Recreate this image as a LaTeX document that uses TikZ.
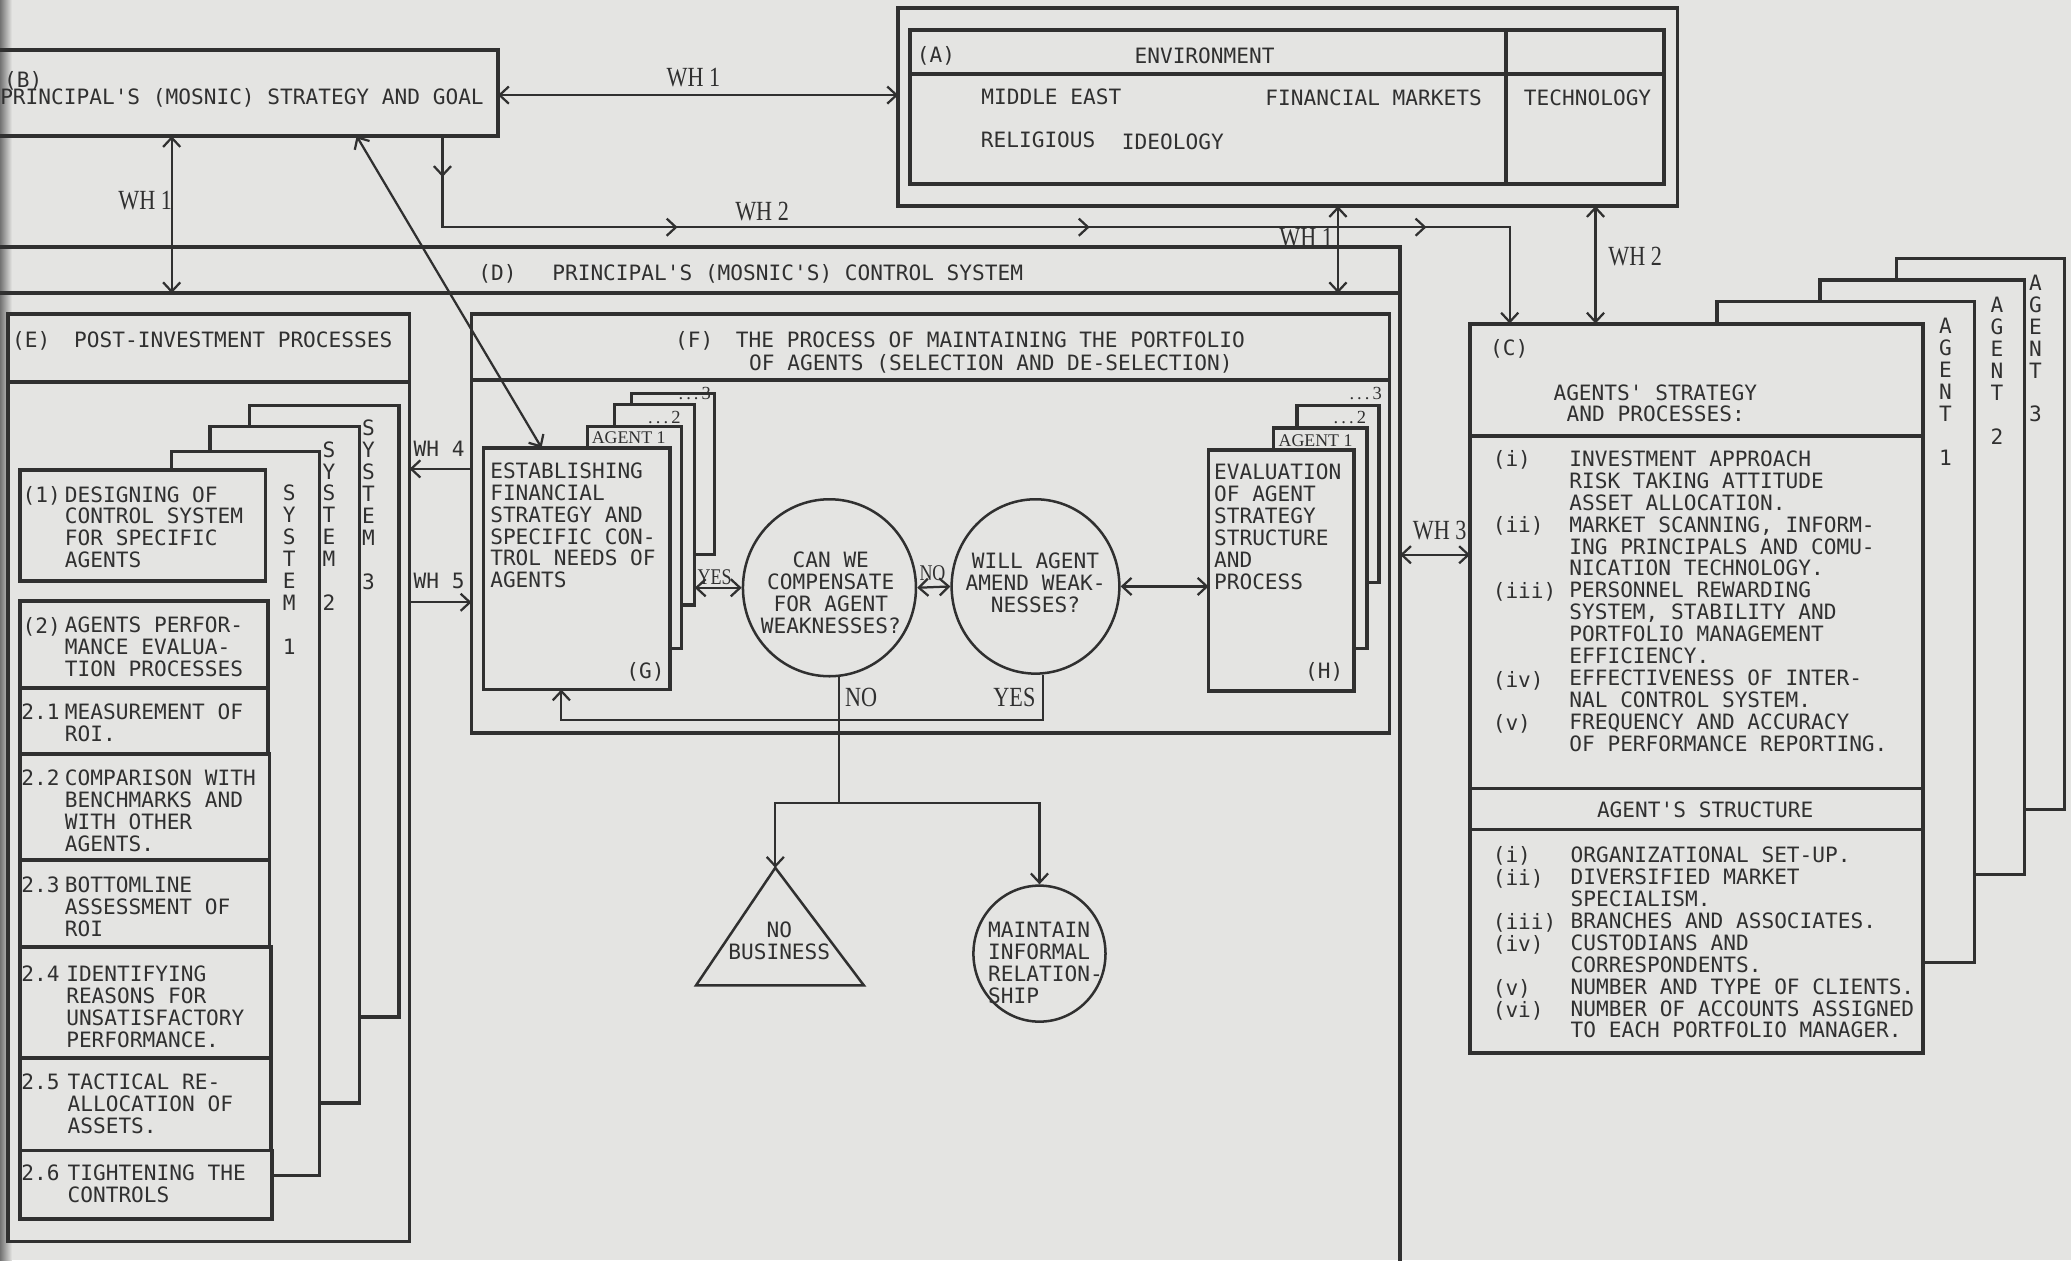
\documentclass[tikz,border=0pt]{standalone}
\usepackage{fontspec}
\usetikzlibrary{arrows.meta,shapes.geometric,decorations.markings,calc}
\newfontfamily\monof{DejaVu Sans Mono}
\newfontfamily\whf[FakeStretch=0.8]{Liberation Serif}
\newfontfamily\agf{Liberation Serif}
\definecolor{bg}{RGB}{228,228,226}
\definecolor{ink}{RGB}{48,48,48}
\newcommand\bx[6][]{\node[box,minimum width={#5-#3},minimum height={#6-#4},anchor=north west,#1] (#2) at (#3,#4) {};}
\begin{document}
\begin{tikzpicture}[x=1pt,y=-1pt,
  box/.style={draw=ink, line width=2.9pt, fill=bg, inner sep=0pt, outer sep=0pt},
  thinbox/.style={line width=2.4pt},
  ln/.style={draw=ink, line width=2.9pt},
  con/.style={draw=ink, line width=1.7pt},
  tip/.tip={Straight Barb[length=7pt,width=13pt]},
  arr/.style={con, -tip},
  darr/.style={con, tip-tip},
  ell/.style={ellipse, draw=ink, line width=1.9pt, inner sep=0pt},
  mt/.style={font=\monof\fontsize{16}{16.6}\selectfont, text=ink, inner sep=0pt, anchor=north west, align=left},
  mc/.style={mt, anchor=center, align=center},
  vt/.style={mt, anchor=north, align=center},
  wh/.style={font=\whf\fontsize{21}{21}\selectfont, text=ink, inner sep=0pt},
  whs/.style={font=\whf\fontsize{17}{17}\selectfont, text=ink, inner sep=0pt},
  ag/.style={font=\agf\fontsize{13.5}{13.5}\selectfont, text=ink, inner sep=0pt},
  agd/.style={font=\agf\fontsize{14}{14}\selectfont, text=ink, inner sep=0pt},
]
\useasboundingbox (0,0) rectangle (1568,954);
\fill[bg] (0,0) rectangle (1568,954);
\shade[left color=black!55, right color=bg] (0,0) rectangle (9,954);

% ---------- (A) environment
\bx{Aout}{680}{6}{1270}{156}
\bx{Ain}{689}{23}{1260}{139}
\draw[ln] (Ain.west |- 0,56) -- (Ain.east |- 0,56);
\draw[ln] (Ain.north -| 1140,0) -- (Ain.south -| 1140,0);
\node[mt] (atag) at (694,35) {(A)};
\node[mc] (aenv) at (912,42) {ENVIRONMENT};
\node[mc] (ame) at (796,73) {MIDDLE EAST};
\node[mc] (afm) at (1040,74) {FINANCIAL MARKETS};
\node[mc] (ate) at (1202,74) {TECHNOLOGY};
\node[mc] (are) at (786,106) {RELIGIOUS};
\node[mc] (aid) at (888,107) {IDEOLOGY};

% ---------- (B) principal's strategy
\draw[ln] (0,38) -- (377,38) -- (377,103) -- (0,103);
\coordinate (bE) at (377,72);
\coordinate (bS1) at (130,103);
\coordinate (bS2) at (270,103);
\coordinate (bS3) at (335,103);
\node[mt] (btag) at (3,54) {(B)};
\node[mt] (btxt) at (0,67) {PRINCIPAL'S (MOSNIC) STRATEGY AND GOAL};

% ---------- (D) control system
\draw[ln] (0,187) -- (1060,187) -- (1060,960);
\draw[ln] (0,222) -- (1060,222);
\coordinate (dT1) at (130,222);
\coordinate (dT2) at (1013,222);
\coordinate (dR) at (1060,420);
\node[mt] (dtag) at (362,200) {(D)};
\node[mt] (dtxt) at (418,200) {PRINCIPAL'S (MOSNIC'S) CONTROL SYSTEM};

% ---------- (E) post-investment processes
\bx{E}{6}{238}{310}{940}
\draw[ln] (E.west |- 0,289) -- (E.east |- 0,289);
\node[mt] (etag) at (9,251) {(E)};
\node[mt] (etxt) at (56,251) {POST-INVESTMENT PROCESSES};
\draw[ln, line width=2.6pt] (189,323) -- (189,307) -- (302,307) -- (302,770) -- (272,770);
\draw[ln, line width=2.6pt] (159,342) -- (159,323) -- (272,323) -- (272,835) -- (242,835);
\draw[ln, line width=2.6pt] (130,356) -- (130,342) -- (242,342) -- (242,890) -- (205,890);
\node[vt] (s3) at (279,318) {S\\Y\\S\\T\\E\\M\\[16.6pt]3};
\node[vt] (s2) at (249,334) {S\\Y\\S\\T\\E\\M\\[16.6pt]2};
\node[vt] (s1) at (219,367) {S\\Y\\S\\T\\E\\M\\[16.6pt]1};
\bx{i1}{15}{356}{201}{440}
\bx{i2}{15}{455}{203}{521}
\bx{i21}{15}{521}{203}{571}
\bx{i22}{15}{571}{204}{651}
\bx{i23}{15}{651}{204}{717}
\bx{i24}{15}{717}{205}{801}
\bx{i25}{15}{801}{205}{871}
\bx{i26}{15}{871}{206}{923}
\node[mt] (l1) at (17,368) {(1)};
\node[mt] (t1) at (49,368) {DESIGNING OF\\CONTROL SYSTEM\\FOR SPECIFIC\\AGENTS};
\node[mt] (l2) at (17,467) {(2)};
\node[mt] (t2) at (49,467) {AGENTS PERFOR-\\MANCE EVALUA-\\TION PROCESSES};
\node[mt] (l21) at (16,533) {2.1};
\node[mt] (t21) at (49,533) {MEASUREMENT OF\\ROI.};
\node[mt] (l22) at (16,583) {2.2};
\node[mt] (t22) at (49,583) {COMPARISON WITH\\BENCHMARKS AND\\WITH OTHER\\AGENTS.};
\node[mt] (l23) at (16,664) {2.3};
\node[mt] (t23) at (49,664) {BOTTOMLINE\\ASSESSMENT OF\\ROI};
\node[mt] (l24) at (16,731) {2.4};
\node[mt] (t24) at (50,731) {IDENTIFYING\\REASONS FOR\\UNSATISFACTORY\\PERFORMANCE.};
\node[mt] (l25) at (16,813) {2.5};
\node[mt] (t25) at (51,813) {TACTICAL RE-\\ALLOCATION OF\\ASSETS.};
\node[mt] (l26) at (16,882) {2.6};
\node[mt] (t26) at (51,882) {TIGHTENING THE\\CONTROLS};

% ---------- (F) maintaining the portfolio
\bx{F}{357}{238}{1052}{555}
\draw[ln] (F.west |- 0,288) -- (F.east |- 0,288);
\node[mt] (ftag) at (511,251) {(F)};
\node[mt] (ft1) at (557,251) {THE PROCESS OF MAINTAINING THE PORTFOLIO};
\node[mt] (ft2) at (567,268) {OF AGENTS (SELECTION AND DE-SELECTION)};

% G stack
\bx[thinbox]{g3}{478}{298}{541}{420}
\bx[thinbox]{g2}{465}{306}{526}{458}
\bx[thinbox]{g1}{445}{323}{516}{491}
\bx{g}{366}{339}{507}{522}
\node[agd] (g3l) at (526,298) {.\,.\,.\,3};
\node[agd] (g2l) at (503,316) {.\,.\,.\,2};
\node[ag] (g1l) at (476,331) {AGENT 1};
\node[mt] (gt) at (371,350) {ESTABLISHING\\FINANCIAL\\STRATEGY AND\\SPECIFIC CON-\\TROL NEEDS OF\\AGENTS};
\node[mt] (gtag) at (474,501) {(G)};

% H stack
\bx[thinbox]{h2}{982}{307}{1044}{441}
\bx[thinbox]{h1}{964}{324}{1035}{491}
\bx{h}{915}{341}{1025}{523}
\node[agd] (h3l) at (1034,298) {.\,.\,.\,3};
\node[agd] (h2l) at (1022,316) {.\,.\,.\,2};
\node[ag] (h1l) at (996,334) {AGENT 1};
\node[mt] (ht) at (919,351) {EVALUATION\\OF AGENT\\STRATEGY\\STRUCTURE\\AND\\PROCESS};
\node[mt] (htag) at (988,501) {(H)};

% decision circles
\node[ell, minimum width=131, minimum height=134] (c1) at (628,445) {};
\node[mc] (c1t) at (629,449) {CAN WE\\COMPENSATE\\FOR AGENT\\WEAKNESSES?};
\node[ell, minimum width=127, minimum height=132] (c2) at (784,444) {};
\node[mc] (c2t) at (784,441) {WILL AGENT\\AMEND WEAK-\\NESSES?};

% outcomes
\coordinate (tA) at (587,657);
\draw[con, line width=1.9pt, line join=miter] (527,746) -- (tA) -- (654,746) -- cycle;
\node[mc] (trit) at (590,712) {NO\\BUSINESS};
\node[ell, minimum width=100, minimum height=103] (c3) at (787,722) {};
\node[mt] (c3t) at (748,698) {MAINTAIN\\INFORMAL\\RELATION-\\SHIP};

% ---------- (C) agents
\bx[thinbox]{ag3}{1436}{196}{1563}{613}
\bx[thinbox]{ag2}{1378}{212}{1533}{662}
\bx[thinbox]{ag1}{1300}{228}{1495}{729}
\bx{C}{1113}{245}{1456}{797}
\draw[ln] (C.west |- 0,330) -- (C.east |- 0,330);
\draw[ln] (C.west |- 0,597) -- (C.east |- 0,597);
\draw[ln] (C.west |- 0,628) -- (C.east |- 0,628);
\node[vt] (a3v) at (1541,208) {A\\G\\E\\N\\T\\[16.6pt]3};
\node[vt] (a2v) at (1512,225) {A\\G\\E\\N\\T\\[16.6pt]2};
\node[vt] (a1v) at (1473,241) {A\\G\\E\\N\\T\\[16.6pt]1};
\node[mt] (ctag) at (1128,257) {(C)};
\node[mt] (ct1) at (1176,291) {AGENTS' STRATEGY};
\node[mt] (ct2) at (1186,307) {AND PROCESSES:};
\node[mt] (cl1) at (1130,341) {(i)};
\node[mt] (cl2) at (1130,391) {(ii)};
\node[mt] (cl3) at (1130,441) {(iii)};
\node[mt] (cl4) at (1130,508) {(iv)};
\node[mt] (cl5) at (1130,541) {(v)};
\node[mt] (ctx) at (1188,341) {INVESTMENT APPROACH\\RISK TAKING ATTITUDE\\ASSET ALLOCATION.\\MARKET SCANNING, INFORM-\\ING PRINCIPALS AND COMU-\\NICATION TECHNOLOGY.\\PERSONNEL REWARDING\\SYSTEM, STABILITY AND\\PORTFOLIO MANAGEMENT\\EFFICIENCY.\\EFFECTIVENESS OF INTER-\\NAL CONTROL SYSTEM.\\FREQUENCY AND ACCURACY\\OF PERFORMANCE REPORTING.};
\node[mc] (cst) at (1291,613) {AGENT'S STRUCTURE};
\node[mt] (sl1) at (1130,641) {(i)};
\node[mt] (sl2) at (1130,658) {(ii)};
\node[mt] (sl3) at (1130,691) {(iii)};
\node[mt] (sl4) at (1130,708) {(iv)};
\node[mt] (sl5) at (1130,741) {(v)};
\node[mt] (sl6) at (1130,758) {(vi)};
\node[mt] (stx) at (1189,641) {ORGANIZATIONAL SET-UP.\\DIVERSIFIED MARKET\\SPECIALISM.\\BRANCHES AND ASSOCIATES.\\CUSTODIANS AND\\CORRESPONDENTS.\\NUMBER AND TYPE OF CLIENTS.\\NUMBER OF ACCOUNTS ASSIGNED\\TO EACH PORTFOLIO MANAGER.};

% ---------- connectors
\draw[darr] (bE) -- (bE -| Aout.west);
\node[wh] (wh1a) at (525,59) {WH 1};
\draw[darr] (bS1) -- (dT1);
\node[wh] (wh1b) at (110,152) {WH 1};
\coordinate (gT) at (410,339);
\draw[darr] (bS2) -- (gT);
\coordinate (cT1) at (1143,245);
\draw[arr, decoration={markings,
   mark=at position 31pt with {\arrow{tip}},
   mark=at position 247pt with {\arrow{tip}},
   mark=at position 559pt with {\arrow{tip}},
   mark=at position 814pt with {\arrow{tip}}}, postaction={decorate}]
   (bS3) -- (335,172) -- (1143,172) -- (cT1);
\node[wh] (wh2a) at (577,160) {WH 2};
\draw[darr] (Aout.south -| dT2) -- (dT2);
\node[wh] (wh1c) at (989,180) {WH 1};
\draw[darr] (Aout.south -| 1208,0) -- (C.north -| 1208,0);
\node[wh] (wh2b) at (1238,194) {WH 2};
\draw[darr] (dR) -- (C.west |- dR);
\node[wh] (wh3) at (1090,402) {WH 3};
\draw[arr] (F.west |- 0,355) -- (E.east |- 0,355);
\node[mt] (wh4) at (313,334) {WH 4};
\draw[arr] (E.east |- 0,456) -- (F.west |- 0,456);
\node[mt] (wh5) at (313,434) {WH 5};

\draw[darr] (g2.east |- c1.west) -- (c1.west);
\node[whs] (yes1) at (541,437) {YES};
\draw[darr] (c1.east) -- (c2.west);
\node[whs] (no1) at (706,434) {NO};
\draw[darr] (c2.east) -- (h.west |- c2.east);

\coordinate (yl) at (425,545);
\draw[arr] (c2.-85) |- (yl) -- (yl |- g.south);
\node[wh] (yes2) at (768,528) {YES};

\coordinate (nj) at (c1.-84 |- 0,608);
\draw[con] (c1.-84) -- (nj);
\node[wh] (no2) at (652,528) {NO};
\draw[arr] (nj) -| (tA);
\draw[arr] (nj) -| (c3.north);
\end{tikzpicture}
\end{document}
